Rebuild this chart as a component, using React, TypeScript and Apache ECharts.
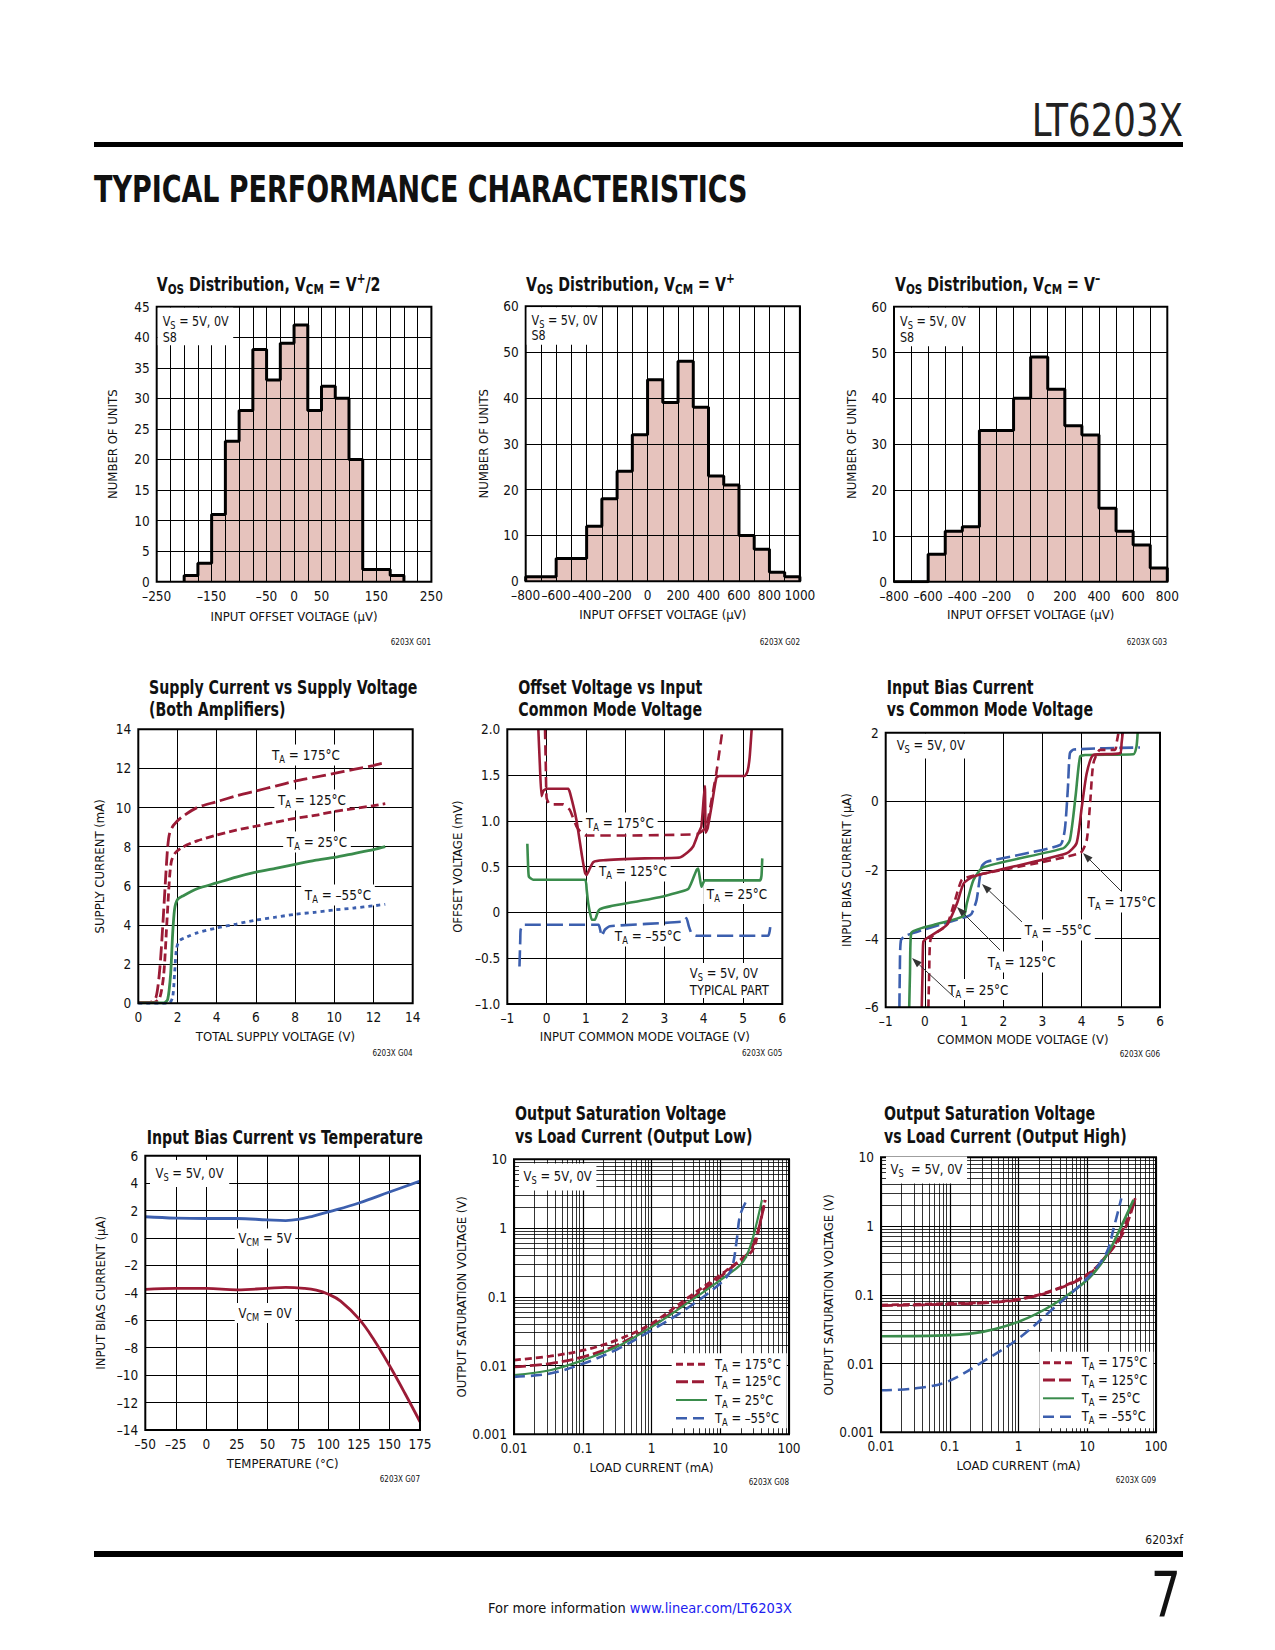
import React, { useEffect, useRef } from 'react';
import * as echarts from 'echarts';

const FONT = "'Liberation Sans Narrow', 'DejaVu Sans Condensed', 'Arial Narrow', sans-serif";
const INK = '#111111';
const RED = '#9b1b36';
const GREEN = '#3a8c4c';
const BLUE = '#3c5fae';
const PINK = '#e6c3bd';

// ---------- G01..G03 histograms ----------
const G01_BIN_START = -200;
const G01_BIN_WIDTH = 25;
const G01_COUNTS = [1, 3, 11, 23, 28, 38, 33, 39, 42, 28, 32, 30, 20, 2, 2, 1];
const G01_X_LABELS = [-250, -150, -50, 0, 50, 150, 250];

const G02_BIN_START = -800;
const G02_BIN_WIDTH = 100;
const G02_COUNTS = [1, 1, 5, 5, 12, 18, 24, 32, 44, 39, 48, 38, 23, 21, 10, 7, 2, 1];
const G02_X_LABELS = [-800, -600, -400, -200, 0, 200, 400, 600, 800, 1000];

const G03_BIN_START = -800;
const G03_BIN_WIDTH = 100;
const G03_COUNTS = [0, 0, 6, 11, 12, 33, 33, 40, 49, 42, 34, 32, 16, 11, 8, 3];
const G03_X_LABELS = [-800, -600, -400, -200, 0, 200, 400, 600, 800];

// ---------- G04 supply current vs supply voltage ----------
const G04_175 = [[0, 0.05], [0.6, 0.05], [0.9, 0.3], [1.1, 1.8], [1.25, 4], [1.4, 6.5], [1.5, 8.0], [1.6, 8.7], [1.8, 9.1], [2.2, 9.5], [3, 10], [4, 10.3], [5, 10.6], [6, 10.85], [7, 11.1], [8, 11.35], [9, 11.55], [10, 11.75], [11, 11.95], [12, 12.15], [12.6, 12.3]];
const G04_125 = [[0, 0.05], [0.8, 0.05], [1.1, 0.3], [1.3, 1.5], [1.45, 4], [1.6, 6.5], [1.7, 7.3], [1.9, 7.7], [2.3, 8.0], [3, 8.3], [4, 8.6], [5, 8.85], [6, 9.05], [7, 9.25], [8, 9.45], [9, 9.6], [10, 9.8], [11, 9.95], [12, 10.1], [12.6, 10.2]];
const G04_25 = [[0, 0.02], [1.3, 0.02], [1.5, 0.2], [1.65, 1.5], [1.75, 3.5], [1.85, 4.8], [2, 5.3], [2.3, 5.5], [3, 5.85], [4, 6.15], [5, 6.45], [6, 6.7], [7, 6.9], [8, 7.1], [9, 7.3], [10, 7.45], [11, 7.65], [12, 7.85], [12.6, 8.0]];
const G04_M55 = [[0, 0], [1.55, 0], [1.75, 0.3], [1.85, 1.5], [1.95, 2.8], [2.1, 3.2], [2.5, 3.4], [3, 3.6], [4, 3.85], [5, 4.05], [6, 4.25], [7, 4.4], [8, 4.55], [9, 4.65], [10, 4.77], [11, 4.87], [12, 4.98], [12.6, 5.06]];

// ---------- G05 offset voltage vs input common mode ----------
const G05_175 = [[-0.04, 2.0], [-0.02, 1.6], [0, 1.25], [0.08, 1.18], [0.42, 1.18], [0.59, 1.12], [0.76, 0.94], [0.9, 0.86], [1.0, 0.84], [2, 0.84], [3, 0.845], [3.82, 0.855], [3.94, 0.88], [4.07, 0.94], [4.2, 1.23], [4.32, 1.52], [4.48, 2.0]];
const G05_125 = [[-0.21, 2.0], [-0.17, 1.6], [-0.13, 1.27], [-0.08, 1.33], [0, 1.35], [0.55, 1.35], [0.6, 1.3], [0.76, 1.01], [0.9, 0.62], [0.98, 0.43], [1.02, 0.41], [1.1, 0.48], [1.19, 0.55], [1.44, 0.57], [2.5, 0.59], [3.39, 0.6], [3.6, 0.66], [3.73, 0.72], [3.85, 0.85], [3.94, 0.94], [4.0, 1.25], [4.03, 1.38], [4.05, 0.87], [4.1, 0.92], [4.2, 1.16], [4.32, 1.47], [4.4, 1.49], [5.05, 1.49], [5.12, 1.55], [5.17, 1.7], [5.22, 2.0]];
const G05_25 = [[-0.49, 0.75], [-0.47, 0.5], [-0.45, 0.39], [-0.34, 0.357], [0.98, 0.357], [1.02, 0.25], [1.06, 0.1], [1.15, -0.08], [1.23, -0.08], [1.3, 0.0], [1.36, 0.036], [1.61, 0.066], [2.97, 0.175], [3.6, 0.255], [3.72, 0.36], [3.82, 0.466], [3.86, 0.48], [3.9, 0.38], [3.94, 0.28], [4.03, 0.35], [5.43, 0.35], [5.47, 0.4], [5.49, 0.59]];
const G05_M55 = [[-0.69, -0.59], [-0.67, -0.3], [-0.66, -0.19], [-0.59, -0.135], [1.32, -0.135], [1.37, -0.2], [1.4, -0.26], [1.48, -0.19], [1.61, -0.15], [3.48, -0.1], [3.56, -0.06], [3.62, -0.15], [3.69, -0.23], [3.82, -0.255], [5.64, -0.255], [5.68, -0.2], [5.7, -0.13]];

// ---------- G06 input bias current vs common mode ----------
const G06_M55 = [[-0.65, -6], [-0.64, -5], [-0.61, -4.04], [-0.46, -3.9], [0.22, -3.65], [1.07, -3.36], [1.19, -3.28], [1.32, -2.87], [1.45, -1.9], [1.58, -1.76], [3.45, -1.27], [3.57, -0.83], [3.65, 0.4], [3.7, 1.4], [3.8, 1.51], [5.49, 1.57]];
const G06_25 = [[-0.4, -6], [-0.38, -5], [-0.35, -3.84], [0.22, -3.6], [0.99, -3.34], [1.07, -2.97], [1.24, -2.29], [1.49, -1.92], [3.53, -1.37], [3.7, -1.13], [3.85, 0.2], [3.96, 1.3], [4.09, 1.35], [5.32, 1.37], [5.4, 1.6], [5.43, 2.0]];
const G06_125 = [[-0.08, -6], [-0.06, -5], [-0.04, -4.09], [0.05, -3.99], [0.56, -3.6], [0.82, -2.97], [0.99, -2.39], [1.24, -2.19], [3.62, -1.51], [3.87, -1.22], [4.0, -0.2], [4.13, 0.82], [4.3, 1.35], [4.98, 1.4], [5.02, 1.7], [5.05, 2.0]];
const G06_175 = [[0.09, -6], [0.11, -5], [0.15, -3.99], [0.56, -3.6], [0.72, -3.07], [0.94, -2.29], [1.15, -2.19], [3.96, -1.51], [4.13, -1.13], [4.22, 0.0], [4.3, 1.11], [4.47, 1.5], [4.85, 1.5], [4.9, 1.75], [4.94, 2.0]];

// ---------- G07 input bias current vs temperature ----------
const G07_VCM5 = [[-50, 1.55], [-25, 1.45], [0, 1.42], [25, 1.42], [50, 1.32], [65, 1.27], [75, 1.35], [87.5, 1.6], [100, 1.9], [125, 2.55], [150, 3.35], [175, 4.15]];
const G07_VCM0 = [[-50, -3.75], [-25, -3.67], [0, -3.67], [25, -3.78], [50, -3.67], [65, -3.6], [80, -3.67], [90, -3.8], [100, -4.1], [110, -4.6], [125, -5.9], [137.5, -7.45], [150, -9.3], [162.5, -11.3], [175, -13.4]];

// ---------- G08 output saturation low ----------
const G08_175 = [[0.01, 0.012], [0.0334, 0.0137], [0.102, 0.0167], [0.313, 0.0234], [1.01, 0.041], [3.27, 0.0946], [10, 0.207], [15.6, 0.289], [23.1, 0.374], [30.6, 0.506], [38.3, 1.24], [45, 2.56]];
const G08_125 = [[0.01, 0.00955], [0.0334, 0.0107], [0.102, 0.0134], [0.313, 0.0198], [1.01, 0.0374], [3.27, 0.0845], [10, 0.195], [19.5, 0.342], [26.5, 0.452], [34.2, 0.79], [45, 2.56]];
const G08_25 = [[0.01, 0.00724], [0.0334, 0.00855], [0.102, 0.012], [0.313, 0.0187], [1.01, 0.0366], [3.27, 0.08], [10, 0.175], [19.5, 0.289], [24.4, 0.404], [30.6, 0.79], [40.4, 2.56]];
const G08_M55 = [[0.01, 0.00684], [0.0334, 0.00764], [0.102, 0.0107], [0.313, 0.0171], [1.01, 0.0327], [3.27, 0.0676], [10, 0.156], [14, 0.231], [15.6, 0.323], [17.5, 0.708], [19.5, 1.55], [24.4, 2.56]];

// ---------- G09 output saturation high ----------
const G09_175 = [[0.01, 0.0708], [0.1, 0.0748], [0.3, 0.0773], [1, 0.0865], [3.2, 0.117], [10.5, 0.205], [19.3, 0.379], [30.2, 0.741], [50, 2.53]];
const G09_125 = [[0.01, 0.0695], [0.1, 0.073], [0.3, 0.076], [1, 0.085], [3.2, 0.115], [10.5, 0.2], [19.3, 0.37], [33.9, 0.826], [50, 2.53]];
const G09_25 = [[0.01, 0.025], [0.1, 0.0259], [0.3, 0.0289], [1, 0.0405], [3.2, 0.0723], [10.5, 0.173], [19.3, 0.379], [30.2, 0.925], [47, 2.4]];
const G09_M55 = [[0.01, 0.00409], [0.03, 0.00433], [0.09, 0.0054], [0.3, 0.0106], [1, 0.0231], [3.2, 0.0632], [10.5, 0.183], [19.3, 0.423], [24.2, 0.925], [31.3, 2.53]];

const LOG_X_LABELS = ['0.01', '0.1', '1', '10', '100'];
const LOG_Y_LABELS = ['0.001', '0.01', '0.1', '1', '10'];

// ---------- layout (pixels) ----------
const GRIDS = [
  { left: 156.7, top: 306.7, width: 274.7, height: 275 },
  { left: 525.7, top: 306.3, width: 274.2, height: 275 },
  { left: 894, top: 306.7, width: 273.3, height: 275 },
  { left: 138.3, top: 729.3, width: 274.4, height: 274 },
  { left: 507.3, top: 729.3, width: 275, height: 274.7 },
  { left: 885.7, top: 732.7, width: 274.3, height: 274.6 },
  { left: 145.3, top: 1155.7, width: 274.7, height: 274.3 },
  { left: 514, top: 1159.3, width: 275, height: 275 },
  { left: 881, top: 1157.3, width: 275, height: 275 },
];

const TITLE_SX = 0.83;
const LABEL_SX = 0.92;

const mk = (size: number, bold = false) => {
  const base = { fontFamily: FONT, fontWeight: bold ? 'bold' : 'normal', fill: INK, color: INK };
  const small = Math.round(size * 0.72);
  return {
    n: { ...base, fontSize: size },
    s: { ...base, fontSize: small, padding: [Math.round(size * 0.6), 0, 0, 0] },
    p: { ...base, fontSize: small, padding: [0, 0, Math.round(size * 0.6), 0] },
    l: { ...base, fontSize: size, fill: '#2020f0', color: '#2020f0' },
  };
};

function txt(x: number, y: number, text: string, size: number, o: any = {}) {
  return {
    type: 'text',
    x,
    y,
    scaleX: o.sx ?? 1,
    z: o.z ?? 1,
    silent: true,
    style: {
      text,
      rich: mk(size, !!o.bold),
      fontFamily: FONT,
      fontSize: size,
      fontWeight: o.bold ? 'bold' : 'normal',
      fill: INK,
      align: o.align ?? 'left',
      verticalAlign: 'middle',
      backgroundColor: o.bg,
      padding: o.pad,
    },
  };
}

function plain(x: number, y: number, text: string, size: number, o: any = {}) {
  return {
    type: 'text',
    x,
    y,
    scaleX: o.sx ?? 1,
    z: o.z ?? 1,
    silent: true,
    style: {
      text,
      fontFamily: o.family ?? FONT,
      fontSize: size,
      fontWeight: o.weight ?? 'normal',
      fill: o.color ?? INK,
      align: o.align ?? 'left',
      verticalAlign: 'middle',
    },
  };
}

function rect(x: number, y: number, w: number, h: number, fill: string, z = 10) {
  return { type: 'rect', z, silent: true, shape: { x, y, width: w, height: h }, style: { fill } };
}

function arrow(x1: number, y1: number, x2: number, y2: number) {
  const dx = x2 - x1;
  const dy = y2 - y1;
  const len = Math.sqrt(dx * dx + dy * dy);
  const ux = dx / len;
  const uy = dy / len;
  const bx = x2 - ux * 10;
  const by = y2 - uy * 10;
  return [
    { type: 'line', z: 10, silent: true, shape: { x1, y1, x2: bx, y2: by }, style: { stroke: '#333', lineWidth: 1 } },
    {
      type: 'polygon',
      z: 10,
      silent: true,
      shape: { points: [[x2, y2], [bx - uy * 3.5, by + ux * 3.5], [bx + uy * 3.5, by - ux * 3.5]] },
      style: { fill: '#333' },
    },
  ];
}

function histPoints(start: number, width: number, counts: number[]) {
  const pts: number[][] = [[start, 0]];
  counts.forEach((c, i) => pts.push([start + i * width, c]));
  const end = start + counts.length * width;
  pts.push([end, counts[counts.length - 1]]);
  pts.push([end, 0]);
  return pts;
}

const signed = (v: number) => (v < 0 ? '\u2013' : '') + String(Math.abs(Math.round(v * 1000) / 1000));

const tickStyle = { fontFamily: FONT, fontSize: 13.5, color: INK };
const nameStyle = { fontFamily: FONT, fontSize: 13, color: INK };

function linAxis(gi: number, min: number, max: number, interval: number, name: string, nameGap: number, formatter: any, z = 0) {
  return {
    type: 'value',
    gridIndex: gi,
    min,
    max,
    interval,
    z,
    axisLine: { show: false },
    axisTick: { show: false },
    splitLine: { show: true, lineStyle: { color: '#000', width: 1 } },
    axisLabel: { ...tickStyle, margin: 7, formatter, showMinLabel: true, showMaxLabel: true },
    name,
    nameLocation: 'middle',
    nameGap,
    nameTextStyle: nameStyle,
  };
}

function logAxis(gi: number, min: number, max: number, labels: string[], name: string, nameGap: number) {
  return {
    type: 'log',
    logBase: 10,
    gridIndex: gi,
    min,
    max,
    axisLine: { show: false },
    axisTick: { show: false },
    splitLine: { show: true, lineStyle: { color: '#000', width: 1.2 } },
    axisLabel: {
      ...tickStyle,
      margin: 7,
      showMinLabel: true,
      showMaxLabel: true,
      formatter: (v: number) => {
        const s = String(Number(v.toPrecision(1)));
        return labels.includes(s) ? s : '';
      },
    },
    name,
    nameLocation: 'middle',
    nameGap,
    nameTextStyle: nameStyle,
  };
}

function curve(gi: number, data: number[][], color: string, dash: any, width = 2.5, smooth = 0.3, extra: any = {}) {
  return {
    type: 'line',
    xAxisIndex: gi,
    yAxisIndex: gi,
    data,
    symbol: 'none',
    showSymbol: false,
    smooth,
    silent: true,
    lineStyle: { color, width, type: dash },
    z: 2,
    ...extra,
  };
}

function minorGrid() {
  const xs: number[] = [];
  [0.01, 0.1, 1, 10].forEach((d) => {
    for (let k = 2; k <= 9; k++) xs.push(d * k);
  });
  const ys: number[] = [];
  [0.001, 0.01, 0.1, 1].forEach((d) => {
    for (let k = 2; k <= 9; k++) ys.push(d * k);
  });
  return {
    markLine: {
      silent: true,
      symbol: ['none', 'none'],
      label: { show: false },
      emphasis: { disabled: true },
      animation: false,
      z: 1,
      lineStyle: { color: '#000', width: 0.8, type: 'solid' },
      data: [...xs.map((v) => ({ xAxis: v })), ...ys.map((v) => ({ yAxis: v }))],
    },
  };
}

function histSeries(gi: number, start: number, width: number, counts: number[]) {
  const pts = histPoints(start, width, counts);
  return [
    {
      type: 'line', xAxisIndex: gi, yAxisIndex: gi, data: pts, step: 'end', symbol: 'none', showSymbol: false, silent: true,
      lineStyle: { width: 0, opacity: 0 }, areaStyle: { color: PINK, opacity: 1 }, z: 2,
    },
    {
      type: 'line', xAxisIndex: gi, yAxisIndex: gi, data: pts, step: 'end', symbol: 'none', showSymbol: false, silent: true,
      lineStyle: { width: 3, color: '#000' }, z: 6,
    },
  ];
}

const TA = (t: string) => `{n|T}{s|A}{n| = ${t}}`;
const VS = '{n|V}{s|S}{n| = 5V, 0V}';

function legend(boxX: number, boxY: number, boxW: number, boxH: number, x0: number, x1: number, xt: number, rows: number[]) {
  const specs = [
    { t: '175\u00b0C', c: RED, d: [7, 4], w: 3 },
    { t: '125\u00b0C', c: RED, d: [12, 4], w: 3 },
    { t: '25\u00b0C', c: GREEN, d: null, w: 2 },
    { t: '\u201355\u00b0C', c: BLUE, d: [11, 6], w: 2.5 },
  ];
  const els: any[] = [rect(boxX, boxY, boxW, boxH, '#fff', 10)];
  specs.forEach((s, i) => {
    els.push({
      type: 'line', z: 11, silent: true,
      shape: { x1: x0, y1: rows[i], x2: x1, y2: rows[i] },
      style: { stroke: s.c, lineWidth: s.w, lineDash: s.d ?? undefined },
    });
    els.push(txt(xt, rows[i], TA(s.t), 14, { z: 11, sx: LABEL_SX }));
  });
  return els;
}

function buildOption() {
  const g = GRIDS.map((r) => ({ ...r, show: true, borderColor: '#000', borderWidth: 2, backgroundColor: 'transparent', z: 5 }));

  const xAxis = [
    linAxis(0, -250, 250, 25, 'INPUT OFFSET VOLTAGE (\u00b5V)', 28, (v: number) => (G01_X_LABELS.includes(v) ? signed(v) : ''), 4),
    linAxis(1, -800, 1000, 100, 'INPUT OFFSET VOLTAGE (\u00b5V)', 27, (v: number) => (G02_X_LABELS.includes(v) ? signed(v) : ''), 4),
    linAxis(2, -800, 800, 100, 'INPUT OFFSET VOLTAGE (\u00b5V)', 26, (v: number) => (G03_X_LABELS.includes(v) ? signed(v) : ''), 4),
    linAxis(3, 0, 14, 2, 'TOTAL SUPPLY VOLTAGE (V)', 27, signed),
    linAxis(4, -1, 6, 1, 'INPUT COMMON MODE VOLTAGE (V)', 26, signed),
    linAxis(5, -1, 6, 1, 'COMMON MODE VOLTAGE (V)', 26, signed),
    linAxis(6, -50, 175, 25, 'TEMPERATURE (\u00b0C)', 27, signed),
    logAxis(7, 0.01, 100, LOG_X_LABELS, 'LOAD CURRENT (mA)', 27),
    logAxis(8, 0.01, 100, LOG_X_LABELS, 'LOAD CURRENT (mA)', 27),
  ];
  const yAxis = [
    linAxis(0, 0, 45, 5, 'NUMBER OF UNITS', 38, signed, 4),
    linAxis(1, 0, 60, 10, 'NUMBER OF UNITS', 36, signed, 4),
    linAxis(2, 0, 60, 10, 'NUMBER OF UNITS', 36, signed, 4),
    linAxis(3, 0, 14, 2, 'SUPPLY CURRENT (mA)', 32, signed),
    linAxis(4, -1, 2, 0.5, 'OFFSET VOLTAGE (mV)', 43, (v: number) => (Math.abs(v) < 1e-9 ? '0' : (v < 0 ? '\u2013' : '') + Math.abs(v).toFixed(1))),
    linAxis(5, -6, 2, 2, 'INPUT BIAS CURRENT (\u00b5A)', 33, signed),
    linAxis(6, -14, 6, 2, 'INPUT BIAS CURRENT (\u00b5A)', 38, signed),
    logAxis(7, 0.001, 10, LOG_Y_LABELS, 'OUTPUT SATURATION VOLTAGE (V)', 42),
    logAxis(8, 0.001, 10, LOG_Y_LABELS, 'OUTPUT SATURATION VOLTAGE (V)', 42),
  ];

  const series: any[] = [
    ...histSeries(0, G01_BIN_START, G01_BIN_WIDTH, G01_COUNTS),
    ...histSeries(1, G02_BIN_START, G02_BIN_WIDTH, G02_COUNTS),
    ...histSeries(2, G03_BIN_START, G03_BIN_WIDTH, G03_COUNTS),

    curve(3, G04_175, RED, [14, 5], 2.8, 0.25),
    curve(3, G04_125, RED, [8, 4], 2.8, 0.25),
    curve(3, G04_25, GREEN, 'solid', 2.8, 0.25),
    curve(3, G04_M55, BLUE, [4, 4], 2.8, 0.25),

    curve(4, G05_175, RED, [10, 6], 2.6, 0.15),
    curve(4, G05_125, RED, 'solid', 2.6, 0.15),
    curve(4, G05_25, GREEN, 'solid', 2.6, 0.15),
    curve(4, G05_M55, BLUE, [16, 6], 2.6, 0.15),

    curve(5, G06_M55, BLUE, [14, 5], 2.6, 0.2),
    curve(5, G06_25, GREEN, 'solid', 2.6, 0.2),
    curve(5, G06_125, RED, 'solid', 2.6, 0.2),
    curve(5, G06_175, RED, [8, 5], 2.6, 0.2),

    curve(6, G07_VCM5, BLUE, 'solid', 2.8, 0.4),
    curve(6, G07_VCM0, RED, 'solid', 2.8, 0.4),

    curve(7, G08_175, RED, [7, 4], 2.8, 0.35, minorGrid()),
    curve(7, G08_125, RED, [12, 4], 2.8, 0.35),
    curve(7, G08_25, GREEN, 'solid', 2.2, 0.35),
    curve(7, G08_M55, BLUE, [11, 6], 2.6, 0.35),

    curve(8, G09_175, RED, [7, 4], 2.8, 0.35, minorGrid()),
    curve(8, G09_125, RED, [12, 4], 2.8, 0.35),
    curve(8, G09_25, GREEN, 'solid', 2.6, 0.35),
    curve(8, G09_M55, BLUE, [11, 6], 2.6, 0.35),
  ];

  const TS = 19;
  const tb = { bold: true, sx: TITLE_SX };
  const lb = { align: 'center', bg: '#fff', pad: [1, 4], sx: LABEL_SX };
  const graphic: any[] = [
    // header / footer
    plain(1183, 121, 'LT6203X', 44, { align: 'right', color: '#222', sx: 0.9 }),
    rect(94, 142, 1089, 5, '#000', 1),
    plain(94, 189, 'TYPICAL PERFORMANCE CHARACTERISTICS', 37, { weight: 900, sx: 0.81 }),
    plain(1183, 1540, '6203xf', 12, { align: 'right' }),
    rect(94, 1551, 1089, 6, '#000', 1),
    plain(1181, 1595, '7', 62, { align: 'right', sx: 0.85 }),
    txt(640, 1608, '{n|For more information }{l|www.linear.com/LT6203X}', 14.5, { align: 'center' }),

    // titles
    txt(156.7, 284, '{n|V}{s|OS}{n| Distribution, V}{s|CM}{n| = V}{p|+}{n|/2}', TS, tb),
    txt(526, 284, '{n|V}{s|OS}{n| Distribution, V}{s|CM}{n| = V}{p|+}', TS, tb),
    txt(895, 284, '{n|V}{s|OS}{n| Distribution, V}{s|CM}{n| = V}{p|\u2013}', TS, tb),
    txt(149, 687, '{n|Supply Current vs Supply Voltage}', TS, tb),
    txt(149, 709.5, '{n|(Both Amplifiers)}', TS, tb),
    txt(518.3, 687, '{n|Offset Voltage vs Input}', TS, tb),
    txt(518.3, 709.5, '{n|Common Mode Voltage}', TS, tb),
    txt(886.7, 687, '{n|Input Bias Current}', TS, tb),
    txt(886.7, 709.5, '{n|vs Common Mode Voltage}', TS, tb),
    txt(146.7, 1137, '{n|Input Bias Current vs Temperature}', TS, tb),
    txt(515, 1113.5, '{n|Output Saturation Voltage}', TS, tb),
    txt(515, 1136.5, '{n|vs Load Current (Output Low)}', TS, tb),
    txt(884, 1113.5, '{n|Output Saturation Voltage}', TS, tb),
    txt(884, 1136.5, '{n|vs Load Current (Output High)}', TS, tb),

    // figure codes
    plain(431, 642, '6203X G01', 8, { align: 'right' }),
    plain(800, 642, '6203X G02', 8, { align: 'right' }),
    plain(1167, 642, '6203X G03', 8, { align: 'right' }),
    plain(412.7, 1053, '6203X G04', 8, { align: 'right' }),
    plain(782.3, 1053, '6203X G05', 8, { align: 'right' }),
    plain(1160, 1054, '6203X G06', 8, { align: 'right' }),
    plain(420, 1479.5, '6203X G07', 8, { align: 'right' }),
    plain(789, 1482, '6203X G08', 8, { align: 'right' }),
    plain(1156, 1480, '6203X G09', 8, { align: 'right' }),

    // histogram boxes
    rect(157.7, 307.7, 75.5, 37.5, '#fff'),
    txt(162.7, 321, VS, 13.5, { z: 11, sx: LABEL_SX }),
    txt(162.7, 337.5, '{n|S8}', 13.5, { z: 11, sx: LABEL_SX }),
    rect(526.7, 307.3, 71, 37.5, '#fff'),
    txt(531.5, 320.5, VS, 13.5, { z: 11, sx: LABEL_SX }),
    txt(531.5, 335, '{n|S8}', 13.5, { z: 11, sx: LABEL_SX }),
    rect(895, 307.7, 73, 38.5, '#fff'),
    txt(900, 321, VS, 13.5, { z: 11, sx: LABEL_SX }),
    txt(900, 337.5, '{n|S8}', 13.5, { z: 11, sx: LABEL_SX }),

    // G04 labels
    txt(306, 755, TA('175\u00b0C'), 14.5, lb),
    txt(312, 800, TA('125\u00b0C'), 14.5, lb),
    txt(317, 842, TA('25\u00b0C'), 14.5, lb),
    txt(338, 895, TA('\u201355\u00b0C'), 14.5, lb),

    // G05 labels
    txt(620, 823, TA('175\u00b0C'), 14.5, lb),
    txt(633, 871, TA('125\u00b0C'), 14.5, lb),
    txt(737, 893.5, TA('25\u00b0C'), 14.5, lb),
    txt(648, 936, TA('\u201355\u00b0C'), 14.5, lb),
    txt(688, 973, VS, 14, { bg: '#fff', pad: [1, 2], sx: LABEL_SX }),
    txt(688, 990, '{n|TYPICAL PART}', 14, { bg: '#fff', pad: [1, 2], sx: LABEL_SX }),

    // G06 labels
    txt(893, 746, VS, 14, { bg: '#fff', pad: [3, 6, 4, 4], sx: LABEL_SX }),
    txt(1121.7, 902, TA('175\u00b0C'), 14.5, lb),
    txt(1058, 930, TA('\u201355\u00b0C'), 14.5, lb),
    txt(1021.7, 962, TA('125\u00b0C'), 14.5, lb),
    txt(978.3, 989.5, TA('25\u00b0C'), 14.5, lb),
    ...arrow(1121, 891, 1083, 853),
    ...arrow(1022, 922, 982, 884),
    ...arrow(1000, 950, 957, 907),
    ...arrow(954, 997, 912, 958),

    // G07 labels
    txt(150, 1173.5, VS, 14, { bg: '#fff', pad: [4, 6, 5, 6], sx: LABEL_SX }),
    txt(265, 1238.5, '{n|V}{s|CM}{n| = 5V}', 14, lb),
    txt(265, 1313, '{n|V}{s|CM}{n| = 0V}', 14, lb),

    // G08 / G09 boxes and legends
    txt(519, 1177, VS, 14, { bg: '#fff', pad: [4, 5, 5, 5], z: 11, sx: LABEL_SX }),
    ...legend(671.7, 1353.3, 115, 75, 676, 707, 715, [1364.3, 1381.7, 1400, 1418.3]),
    txt(886, 1170, '{n|V}{s|S}{n|  = 5V, 0V}', 14, { bg: '#fff', pad: [4, 5, 5, 5], z: 11, sx: LABEL_SX }),
    ...legend(1039.3, 1351.7, 114, 76.6, 1043, 1074, 1081.7, [1362.7, 1380, 1398.3, 1416.7]),
  ];

  return {
    animation: false,
    backgroundColor: '#ffffff',
    textStyle: { fontFamily: FONT },
    grid: g,
    xAxis,
    yAxis,
    series,
    graphic,
  };
}

export default function App() {
  const ref = useRef<HTMLDivElement>(null);
  useEffect(() => {
    if (!ref.current) return;
    const chart = echarts.init(ref.current, undefined, { renderer: 'svg' });
    chart.setOption(buildOption() as any);
    return () => chart.dispose();
  }, []);
  return (
    <div
      ref={ref}
      style={{ position: 'absolute', left: 0, top: 0, width: 1275, height: 1650, background: '#fff' }}
    />
  );
}
